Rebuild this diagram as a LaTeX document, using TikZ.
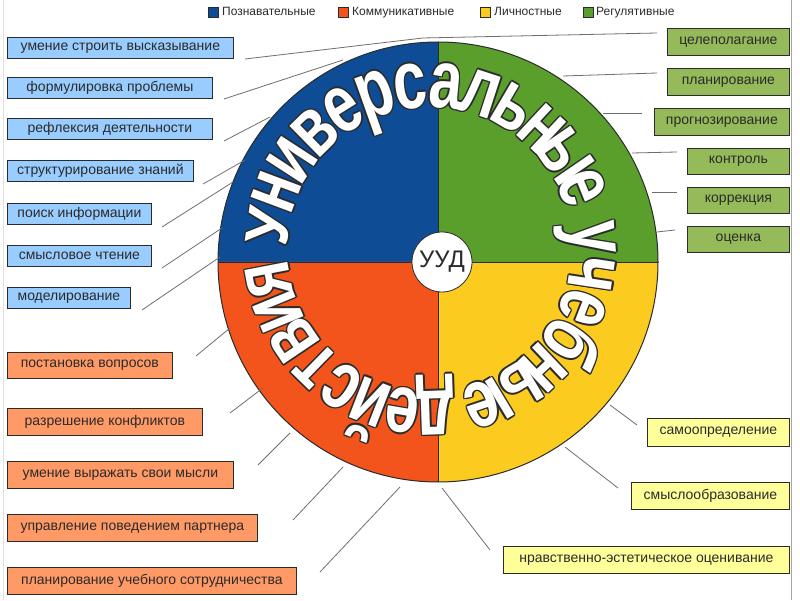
\documentclass[tikz,border=0pt]{standalone}
\usepackage{fontspec}
\setmainfont{Liberation Sans}
\usetikzlibrary{calc}
\definecolor{pblue}{HTML}{0E4C96}
\definecolor{pgreen}{HTML}{5A9E2C}
\definecolor{pyellow}{HTML}{FBCB1F}
\definecolor{pred}{HTML}{F2541C}
\definecolor{bblue}{HTML}{99CCFF}
\definecolor{bred}{HTML}{FF9966}
\definecolor{byellow}{HTML}{FFFF99}
\definecolor{bgreen}{HTML}{94BA5A}
\definecolor{txt}{HTML}{2B2B2B}
\definecolor{conn}{HTML}{6E6E6E}
\newcommand{\uudletters}[3]{%
  \foreach \ch/\a/\sy in {У/172/1.32,н/159.5/1.8,и/147/1.8,в/134.5/1.8,е/122/1.8,р/109.5/1.8,с/97/1.8,а/84.5/1.8,л/72/1.8,ь/59.5/1.8,н/47/1.8,ы/34.5/1.8,е/22/1.8,
    у/4/1.8,ч/-8.6/1.8,е/-21.2/1.8,б/-33.8/1.8,н/-46.4/1.8,ы/-59/1.8,е/-71.6/1.8,
    д/-88/1.8,е/-99.6/1.8,й/-111.2/1.8,с/-122.8/1.8,т/-134.4/1.8,в/-146/1.8,и/-157.6/1.8,я/-169.2/1.8}{
    \node[rotate=\a-90, anchor=base, inner sep=0pt, text=#1] at ($(T)+(\a:142pt)+(#2pt,#3pt)$)
      {\scalebox{1.3}[\sy]{\bfseries\fontsize{46}{46}\selectfont \ch}};
  }%
}
\tikzset{
  ubox/.style={draw=txt, line width=0.8pt, inner sep=0pt, anchor=north west,
    font=\fontsize{14}{16}\selectfont, text=txt, align=center},
  lsq/.style={draw=txt, line width=0.7pt, minimum width=10pt, minimum height=10pt, inner sep=0pt},
  ltext/.style={anchor=base west, inner sep=0pt, text=txt, font=\fontsize{12}{13}\selectfont},
  conn/.style={draw=conn, line width=0.8pt},
}
\begin{document}
\begin{tikzpicture}[x=1pt,y=1pt]
\useasboundingbox (0,0) rectangle (800,600);
\fill[white] (0,0) rectangle (800,600);
\draw[black!12, line width=0.8pt] (3,0) -- (3,600);
\draw[black!35, line width=0.8pt] (791,0) -- (791,600);

% legend
\node[lsq, fill=pblue] (l1) at (213.5,588) {};
\node[ltext] (l1t) at (222,584) {Познавательные};
\node[lsq, fill=pred] (l2) at (343.5,588) {};
\node[ltext] (l2t) at (352,584) {Коммуникативные};
\node[lsq, fill=pyellow] (l3) at (485.5,588) {};
\node[ltext] (l3t) at (494,584) {Личностные};
\node[lsq, fill=pgreen] (l4) at (588,588) {};
\node[ltext] (l4t) at (596,584) {Регулятивные};

% pie
\coordinate (C) at (438,338);
\coordinate (T) at (430,351);
\fill[pblue] (C) -- ++(90:220pt) arc[start angle=90,end angle=180,radius=220pt] -- cycle;
\fill[pred] (C) -- ++(180:220pt) arc[start angle=180,end angle=270,radius=220pt] -- cycle;
\fill[pyellow] (C) -- ++(270:220pt) arc[start angle=270,end angle=360,radius=220pt] -- cycle;
\fill[pgreen] (C) -- ++(0:220pt) arc[start angle=0,end angle=90,radius=220pt] -- cycle;
\draw[txt, line width=0.8pt] ($(C)+(0,220pt)$) -- ($(C)+(0,-220pt)$);
\draw[txt, line width=0.8pt] ($(C)+(-220pt,0)$) -- ($(C)+(220pt,0)$);
\draw[txt, line width=1pt] (C) circle[radius=220pt];

% curved title: dark outline copies, then white letters
\foreach \dx/\dy in {1.5/0,-1.5/0,0/1.5,0/-1.5,1.06/1.06,1.06/-1.06,-1.06/1.06,-1.06/-1.06}{
  \uudletters{txt}{\dx}{\dy}
}
\uudletters{white}{0}{0}

\node[circle, draw=txt, line width=0.8pt, fill=white, minimum size=60pt, inner sep=0pt,
  font=\fontsize{24}{24}\selectfont, text=txt] (uud) at (442,338) {УУД};

% boxes left blue
\node[ubox, fill=bblue, minimum width=226pt, minimum height=21pt] (b1) at (7,563) {умение строить высказывание};
\node[ubox, fill=bblue, minimum width=205pt, minimum height=21pt] (b2) at (7,523) {формулировка проблемы};
\node[ubox, fill=bblue, minimum width=205pt, minimum height=21pt] (b3) at (7,482) {рефлексия деятельности};
\node[ubox, fill=bblue, minimum width=186pt, minimum height=21pt] (b4) at (7,440) {структурирование знаний};
\node[ubox, fill=bblue, minimum width=144pt, minimum height=21pt] (b5) at (7,397) {поиск информации};
\node[ubox, fill=bblue, minimum width=144pt, minimum height=21pt] (b6) at (7,355) {смысловое чтение};
\node[ubox, fill=bblue, minimum width=123pt, minimum height=21pt] (b7) at (7,313) {моделирование};
% boxes left red
\node[ubox, fill=bred, minimum width=165pt, minimum height=26pt] (r1) at (7,248) {постановка вопросов};
\node[ubox, fill=bred, minimum width=195pt, minimum height=27pt] (r2) at (7,192) {разрешение конфликтов};
\node[ubox, fill=bred, minimum width=226pt, minimum height=27pt] (r3) at (7,139) {умение выражать свои мысли};
\node[ubox, fill=bred, minimum width=250pt, minimum height=27pt] (r4) at (7,86) {управление поведением партнера};
\node[ubox, fill=bred, minimum width=289pt, minimum height=27pt] (r5) at (7,33) {планирование учебного сотрудничества};
% boxes right green
\node[ubox, fill=bgreen, minimum width=122pt, minimum height=27pt] (g1) at (667,572) {целеполагание};
\node[ubox, fill=bgreen, minimum width=122pt, minimum height=27pt] (g2) at (667,532) {планирование};
\node[ubox, fill=bgreen, minimum width=135pt, minimum height=27pt] (g3) at (654,492) {прогнозирование};
\node[ubox, fill=bgreen, minimum width=102pt, minimum height=26pt] (g4) at (687,452) {контроль};
\node[ubox, fill=bgreen, minimum width=102pt, minimum height=26pt] (g5) at (687,413) {коррекция};
\node[ubox, fill=bgreen, minimum width=102pt, minimum height=26pt] (g6) at (687,374) {оценка};
% boxes right yellow
\node[ubox, fill=byellow, minimum width=142pt, minimum height=28pt] (y1) at (647,182) {самоопределение};
\node[ubox, fill=byellow, minimum width=158pt, minimum height=27pt] (y2) at (631,118) {смыслообразование};
\node[ubox, fill=byellow, minimum width=286pt, minimum height=27pt] (y3) at (503,54) {нравственно-эстетическое оценивание};

% connector ends
\coordinate (b1a) at (245,541); \coordinate (b1z) at (423,562);
\coordinate (b2a) at (224,501); \coordinate (b2z) at (343,540);
\coordinate (b3a) at (224,459); \coordinate (b3z) at (270,483);
\coordinate (b4a) at (203,416); \coordinate (b4z) at (245,440);
\coordinate (b5a) at (162,373); \coordinate (b5z) at (233,418);
\coordinate (b6a) at (162,332); \coordinate (b6z) at (222,372);
\coordinate (b7a) at (142,290); \coordinate (b7z) at (220,343);
\coordinate (r1a) at (196,244); \coordinate (r1z) at (230,272);
\coordinate (r2a) at (230,187); \coordinate (r2z) at (263,212);
\coordinate (r3a) at (258,135); \coordinate (r3z) at (290,167);
\coordinate (r4a) at (293,80);  \coordinate (r4z) at (343,133);
\coordinate (r5a) at (320,28);  \coordinate (r5z) at (400,113);
\coordinate (g1a) at (657,567); \coordinate (g1z) at (423,562);
\coordinate (g2a) at (657,527); \coordinate (g2z) at (563,524);
\coordinate (g3a) at (642,487); \coordinate (g3z) at (603,487);
\coordinate (g4a) at (677,448); \coordinate (g4z) at (632,447);
\coordinate (g5a) at (677,408); \coordinate (g5z) at (652,408);
\coordinate (g6a) at (675,370); \coordinate (g6z) at (657,368);
\coordinate (y1a) at (637,175); \coordinate (y1z) at (610,195);
\coordinate (y2a) at (618,112); \coordinate (y2z) at (565,153);
\coordinate (y3a) at (490,50);  \coordinate (y3z) at (442,112);
\foreach \k in {b1,b2,b3,b4,b5,b6,b7,r1,r2,r3,r4,r5,g1,g2,g3,g4,g5,g6,y1,y2,y3}{
  \draw[conn] (\k a) -- (\k z);
}
\end{tikzpicture}
\end{document}
